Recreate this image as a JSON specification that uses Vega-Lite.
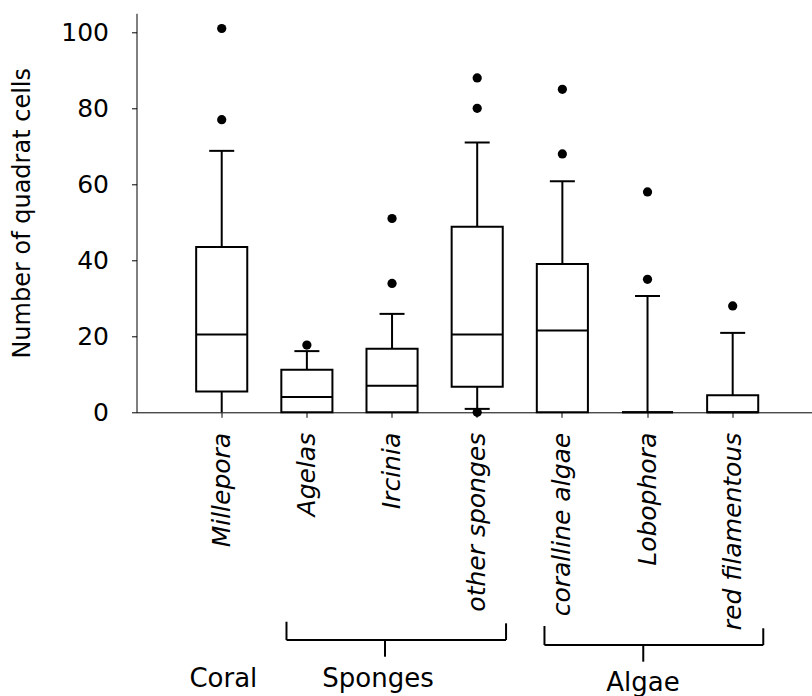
{
  "$schema": "https://vega.github.io/schema/vega-lite/v6.json",
  "width": 675.5,
  "height": 399,
  "autosize": {"type": "none"},
  "padding": {"left": 136.5, "top": 13.3, "right": 0, "bottom": 283.7},
  "background": "white",
  "config": {
    "view": {"stroke": null},
    "font": "DejaVu Sans",
    "axis": {"domainColor": "black", "tickColor": "black", "labelColor": "black", "titleColor": "black", "grid": false, "domainWidth": 1, "tickWidth": 1, "labelLimit": 400, "titleLimit": 600}
  },
  "datasets": {
    "boxes": [
      {"group": "Millepora", "lower": 0, "q1": 5.5, "median": 20.5, "q3": 43.5, "upper": 68.8, "lowcap": null},
      {"group": "Agelas", "lower": 0, "q1": 0, "median": 4.0, "q3": 11.2, "upper": 16.1, "lowcap": null},
      {"group": "Ircinia", "lower": 0, "q1": 0, "median": 7.0, "q3": 16.7, "upper": 25.9, "lowcap": null},
      {"group": "other sponges", "lower": 0.9, "q1": 6.7, "median": 20.5, "q3": 48.8, "upper": 71.0, "lowcap": 0.9},
      {"group": "coralline algae", "lower": 0, "q1": 0, "median": 21.5, "q3": 39.0, "upper": 60.8, "lowcap": null},
      {"group": "Lobophora", "lower": 0, "q1": 0, "median": 0, "q3": 0, "upper": 30.6, "lowcap": null},
      {"group": "red filamentous", "lower": 0, "q1": 0, "median": 0, "q3": 4.5, "upper": 20.9, "lowcap": null}
    ],
    "outliers": [
      {"group": "Millepora", "value": 77},
      {"group": "Millepora", "value": 101},
      {"group": "Agelas", "value": 17.7},
      {"group": "Ircinia", "value": 33.9},
      {"group": "Ircinia", "value": 51},
      {"group": "other sponges", "value": 0},
      {"group": "other sponges", "value": 80},
      {"group": "other sponges", "value": 88},
      {"group": "coralline algae", "value": 68},
      {"group": "coralline algae", "value": 85},
      {"group": "Lobophora", "value": 35},
      {"group": "Lobophora", "value": 58},
      {"group": "red filamentous", "value": 28}
    ],
    "brackets": [
      {"x": 1.761, "x2": 4.339, "y": -59.92, "y2": -59.92},
      {"x": 1.761, "x2": 1.761, "y": -59.92, "y2": -55.11},
      {"x": 4.339, "x2": 4.339, "y": -59.92, "y2": -55.53},
      {"x": 2.918, "x2": 2.918, "y": -59.92, "y2": -64.32},
      {"x": 4.790, "x2": 7.359, "y": -61.24, "y2": -61.24},
      {"x": 4.790, "x2": 4.790, "y": -61.24, "y2": -56.24},
      {"x": 7.359, "x2": 7.359, "y": -61.24, "y2": -56.84},
      {"x": 5.950, "x2": 5.950, "y": -61.24, "y2": -65.63}
    ],
    "groups": [
      {"label": "Coral", "x": 1.02, "y": -72.37},
      {"label": "Sponges", "x": 2.836, "y": -72.37},
      {"label": "Algae", "x": 5.947, "y": -73.26}
    ]
  },
  "layer": [
    {
      "layer": [
        {
          "data": {"name": "boxes"},
          "mark": {"type": "rule", "strokeWidth": 2, "color": "black"},
          "encoding": {
            "x": {"field": "group", "type": "nominal",
                  "scale": {"domain": ["Millepora", "Agelas", "Ircinia", "other sponges", "coralline algae", "Lobophora", "red filamentous"], "paddingInner": 0.4, "paddingOuter": 0.666, "align": 0.526, "round": false},
                  "axis": {"title": null, "labelAngle": -90, "labelFontStyle": "italic", "labelFontSize": 25, "labelPadding": 15, "tickSize": 5, "labelFont": "DejaVu Sans", "labelLimit": 400}},
            "y": {"field": "lower", "type": "quantitative",
                  "scale": {"domain": [0, 105], "nice": false, "zero": true},
                  "axis": {"title": "Number of quadrat cells", "values": [0, 20, 40, 60, 80, 100], "labelFontSize": 25, "labelPadding": 23, "tickSize": 5, "titleFontSize": 24, "titleFontWeight": "normal", "titlePadding": 26, "labelFont": "DejaVu Sans", "titleFont": "DejaVu Sans"}},
            "y2": {"field": "upper"}
          }
        },
        {
          "data": {"name": "boxes"},
          "mark": {"type": "bar", "fill": "white", "stroke": "black", "strokeWidth": 2},
          "encoding": {
            "x": {"field": "group", "type": "nominal"},
            "y": {"field": "q1", "type": "quantitative"},
            "y2": {"field": "q3"}
          }
        },
        {
          "data": {"name": "boxes"},
          "mark": {"type": "tick", "thickness": 2, "size": 51, "color": "black", "opacity": 1},
          "encoding": {
            "x": {"field": "group", "type": "nominal"},
            "y": {"field": "median", "type": "quantitative"}
          }
        },
        {
          "data": {"name": "boxes"},
          "mark": {"type": "tick", "thickness": 2, "size": 25, "color": "black", "opacity": 1},
          "encoding": {
            "x": {"field": "group", "type": "nominal"},
            "y": {"field": "upper", "type": "quantitative"}
          }
        },
        {
          "data": {"name": "boxes"},
          "transform": [{"filter": "datum.lowcap != null"}],
          "mark": {"type": "tick", "thickness": 2, "size": 25, "color": "black", "opacity": 1},
          "encoding": {
            "x": {"field": "group", "type": "nominal"},
            "y": {"field": "lowcap", "type": "quantitative"}
          }
        },
        {
          "data": {"name": "outliers"},
          "mark": {"type": "circle", "size": 85, "color": "black", "opacity": 1},
          "encoding": {
            "x": {"field": "group", "type": "nominal"},
            "y": {"field": "value", "type": "quantitative"}
          }
        }
      ]
    },
    {
      "layer": [
        {
          "data": {"name": "brackets"},
          "mark": {"type": "rule", "strokeWidth": 2, "color": "black"},
          "encoding": {
            "x": {"field": "x", "type": "quantitative", "scale": {"domain": [0, 7.9312], "nice": false, "zero": false}, "axis": null},
            "x2": {"field": "x2"},
            "y": {"field": "y", "type": "quantitative", "scale": {"domain": [0, 105], "nice": false, "zero": false}, "axis": null},
            "y2": {"field": "y2"}
          }
        },
        {
          "data": {"name": "groups"},
          "mark": {"type": "text", "fontSize": 26, "font": "DejaVu Sans", "align": "center", "baseline": "alphabetic", "color": "black"},
          "encoding": {
            "x": {"field": "x", "type": "quantitative"},
            "y": {"field": "y", "type": "quantitative"},
            "text": {"field": "label"}
          }
        }
      ]
    }
  ],
  "resolve": {"scale": {"x": "independent", "y": "independent"}, "axis": {"x": "independent", "y": "independent"}}
}
